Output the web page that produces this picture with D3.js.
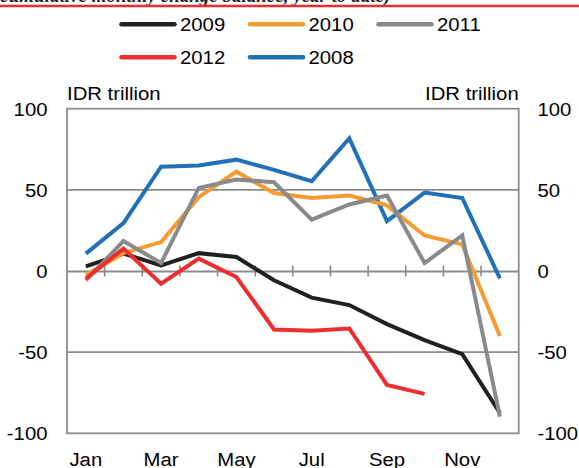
<!DOCTYPE html>
<html>
<head>
<meta charset="utf-8">
<script src="https://cdn.jsdelivr.net/npm/d3@7"></script>
<style>
  html, body { margin: 0; padding: 0; background: #fff; }
  svg { display: block; }
</style>
</head>
<body>
<svg id="chart" width="579" height="468"></svg>
<script>
const months = ["Jan","Feb","Mar","Apr","May","Jun","Jul","Aug","Sep","Oct","Nov","Dec"];
const monthLabels = ["Jan","Mar","May","Jul","Sep","Nov"];
const yTicks = [-100, -50, 0, 50, 100];
const seriesNames = ["2008","2009","2010","2011","2012"];
const legendOrder = ["2009","2010","2011","2012","2008"];
const s2008 = [10.7, 29.5, 64.3, 65.0, 68.6, 62.3, 55.3, 81.7, 30.7, 48.3, 45.0, -4.5];
const s2009 = [2.9, 10.7, 3.5, 11.0, 8.6, -5.7, -16.4, -21.0, -32.7, -42.6, -51.2, -87.5];
const s2010 = [-2.5, 11.0, 17.8, 45.5, 61.2, 48.0, 45.0, 46.5, 40.4, 21.9, 16.4, -40.1];
const s2011 = [-5.7, 18.4, 4.9, 51.2, 56.3, 54.7, 31.6, 41.0, 46.5, 4.9, 21.9, -89.7];
const s2012 = [-4.7, 13.8, -7.8, 7.6, -3.7, -36.0, -36.8, -35.4, -70.2, -75.7];
const unitLabel = "IDR trillion";
const titleText = "(cumulative monthly change balance, year to date)";

const values = {"2008": s2008, "2009": s2009, "2010": s2010, "2011": s2011, "2012": s2012};
const colors = {"2008": "#2170b8", "2009": "#231f20", "2010": "#f59b2f", "2011": "#8a8a8c", "2012": "#ee2d2e"};

const svg = d3.select("#chart");
const FONT = "'Liberation Sans', Arial, sans-serif";
const FS = 19;
const SX = 1.07;
const axisGray = "#8b8b8d";

const L = 67, R = 518.7, T = 108.7, B = 433.3;
const x = d3.scaleBand().domain(months).range([L, R]).paddingInner(0).paddingOuter(0);
const y = d3.scaleLinear().domain([-100, 100]).range([B, T]);

function txt(g, xx, yy, s, anchor, size) {
  return g.append("text")
    .attr("transform", `translate(${xx},${yy}) scale(${SX},1)`)
    .attr("text-anchor", anchor || "start")
    .attr("font-family", FONT)
    .attr("font-size", size || FS)
    .attr("fill", "#000")
    .text(s);
}

// cut-off title and red rule at top
svg.append("text")
  .attr("x", -6).attr("y", 1.5)
  .attr("font-family", "'Liberation Serif', 'Times New Roman', serif")
  .attr("font-style", "italic").attr("font-weight", "bold")
  .attr("font-size", 19).attr("fill", "#222")
  .text(titleText);
svg.append("line").attr("x1", 0).attr("x2", 579).attr("y1", 6).attr("y2", 6)
  .attr("stroke", "#ee2d2e").attr("stroke-width", 2.6);

// legend
const leg = svg.append("g");
legendOrder.forEach((name, i) => {
  const col = i % 3, row = Math.floor(i / 3);
  const lx = 121.5 + col * 128.5, ly = 24.3 + row * 33;
  leg.append("line").attr("x1", lx).attr("x2", lx + 53).attr("y1", ly).attr("y2", ly)
    .attr("stroke", colors[name]).attr("stroke-width", 4.5).attr("stroke-linecap", "round");
  txt(leg, lx + 58.5, ly + 6.6, name, "start");
});

// gridlines at ±50
const grid = svg.append("g");
[-50, 50].forEach(v => {
  grid.append("line").attr("x1", L).attr("x2", R).attr("y1", y(v)).attr("y2", y(v))
    .attr("stroke", axisGray).attr("stroke-width", 1.6);
});

// zero line with tick marks via axis
const zeroAxis = d3.axisBottom(x).tickSize(0).tickFormat("");
const zg = svg.append("g").attr("transform", `translate(0,${y(0)})`).call(zeroAxis);
zg.select(".domain").attr("stroke", axisGray).attr("stroke-width", 1.8);
zg.selectAll(".tick").remove();
months.slice(1).forEach(m => {
  zg.append("line").attr("x1", x(m)).attr("x2", x(m)).attr("y1", -5.5).attr("y2", 5.5)
    .attr("stroke", axisGray).attr("stroke-width", 1.6);
});

// frame
svg.append("rect").attr("x", L).attr("y", T).attr("width", R - L).attr("height", B - T)
  .attr("fill", "none").attr("stroke", axisGray).attr("stroke-width", 1.8);

// y axis labels (left and right), plain hyphen minus as in reference
const yl = svg.append("g");
yTicks.forEach(v => {
  txt(yl, 47.5, y(v) + 6.8, String(v), "end");
  txt(yl, 537.5, y(v) + 6.8, String(v), "start");
});
txt(yl, L, 100, unitLabel, "start");
txt(yl, R, 100, unitLabel, "end");

// x labels
const xl = svg.append("g");
monthLabels.forEach(m => {
  txt(xl, x(m) + x.bandwidth() / 2, 465.5, m, "middle");
});

// lines
const line = d3.line()
  .x((d, i) => x(months[i]) + x.bandwidth() / 2)
  .y(d => y(d));
const lg = svg.append("g");
seriesNames.forEach(name => {
  lg.append("path").datum(values[name])
    .attr("d", line)
    .attr("fill", "none")
    .attr("stroke", colors[name])
    .attr("stroke-width", 4)
    .attr("stroke-linejoin", "miter")
    .attr("stroke-linecap", "butt");
});
</script>
</body>
</html>
